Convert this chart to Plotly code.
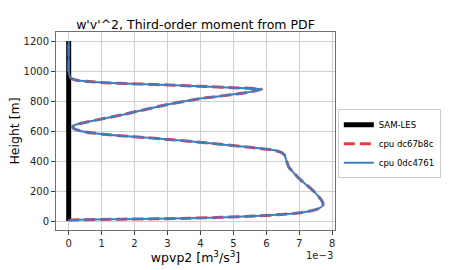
import plotly.graph_objects as go

# Heights [m]
heights = [0, 5, 7, 12, 18, 33, 56, 84, 105, 129, 160, 196, 235, 273, 300, 329, 360, 384, 410,
           440, 458, 473, 491, 522, 551, 573, 592, 607, 618, 629, 645, 662, 707, 773, 818, 851,
           870, 878, 884, 889, 907, 922, 932, 940, 955, 973, 1000, 1100, 1200]
# wpvp2 in units of 1e-3 m^3/s^3
cpu_dc67b8c = [0.0, 0.02, 0.1, 1.6, 3.64, 5.67, 7.09, 7.6, 7.72, 7.7, 7.6, 7.45, 7.25, 7.05, 6.92,
               6.8, 6.68, 6.64, 6.6, 6.55, 6.45, 6.2, 5.5, 4.15, 2.62, 1.3, 0.55, 0.25, 0.14, 0.12,
               0.25, 0.59, 1.6, 2.93, 4.05, 5.26, 5.7, 5.85, 5.6, 4.96, 3.03, 1.1, 0.5, 0.2, 0.06,
               0.02, 0.0, 0.0, 0.0]
cpu_0dc4761 = list(cpu_dc67b8c)
sam_heights = [0, 1200]
sam_les = [0.0, 0.0]

fig = go.Figure()
fig.add_trace(go.Scatter(x=sam_les, y=sam_heights, mode="lines", name="SAM-LES",
                         line=dict(color="black", width=5)))
fig.add_trace(go.Scatter(x=cpu_dc67b8c, y=heights, mode="lines", name="cpu dc67b8c",
                         line=dict(color="rgba(225,25,35,0.85)", width=3, dash="11px,5px",
                                   shape="spline", smoothing=0.6)))
fig.add_trace(go.Scatter(x=cpu_0dc4761, y=heights, mode="lines", name="cpu 0dc4761",
                         line=dict(color="#3a7fc1", width=2, shape="spline", smoothing=0.6)))

axis_common = dict(showgrid=True, gridcolor="#d0d0d0", gridwidth=1, zeroline=False,
                   showline=True, linecolor="#707070", linewidth=1, mirror=True,
                   ticks="outside", ticklen=4, tickcolor="#404040", automargin=False,
                   tickfont=dict(family="DejaVu Sans", size=10, color="#262626"))

fig.update_layout(
    width=450, height=270,
    margin=dict(l=56, r=115, t=32, b=40, autoexpand=False),
    paper_bgcolor="white", plot_bgcolor="white",
    title=dict(text="w'v'^2, Third-order moment from PDF", x=(56 + 335) / 2 / 450,
               xanchor="center", y=1 - 25 / 270, yanchor="middle",
               font=dict(family="DejaVu Sans", size=12.5, color="black")),
    xaxis=dict(range=[-0.385, 8.085], dtick=1,
               title=dict(text="wpvp2 [m<sup>3</sup>/s<sup>3</sup>]", standoff=3,
                          font=dict(family="DejaVu Sans", size=12.5, color="black")),
               **axis_common),
    yaxis=dict(range=[-60, 1260], dtick=200,
               title=dict(text="Height [m]", standoff=1,
                          font=dict(family="DejaVu Sans", size=12.5, color="black")),
               **axis_common),
    legend=dict(x=1.01, y=0.61, xanchor="left", yanchor="top",
                bgcolor="white", bordercolor="#cccccc", borderwidth=1,
                font=dict(family="DejaVu Sans", size=8.5, color="black"),
                tracegroupgap=0, itemwidth=30),
    showlegend=True,
)
fig.add_annotation(text="1e\u22123", xref="paper", yref="paper", x=1.0, y=-0.09,
                   xanchor="right", yanchor="top", showarrow=False,
                   font=dict(family="DejaVu Sans", size=10, color="#262626"))

fig.write_html("out.html")
